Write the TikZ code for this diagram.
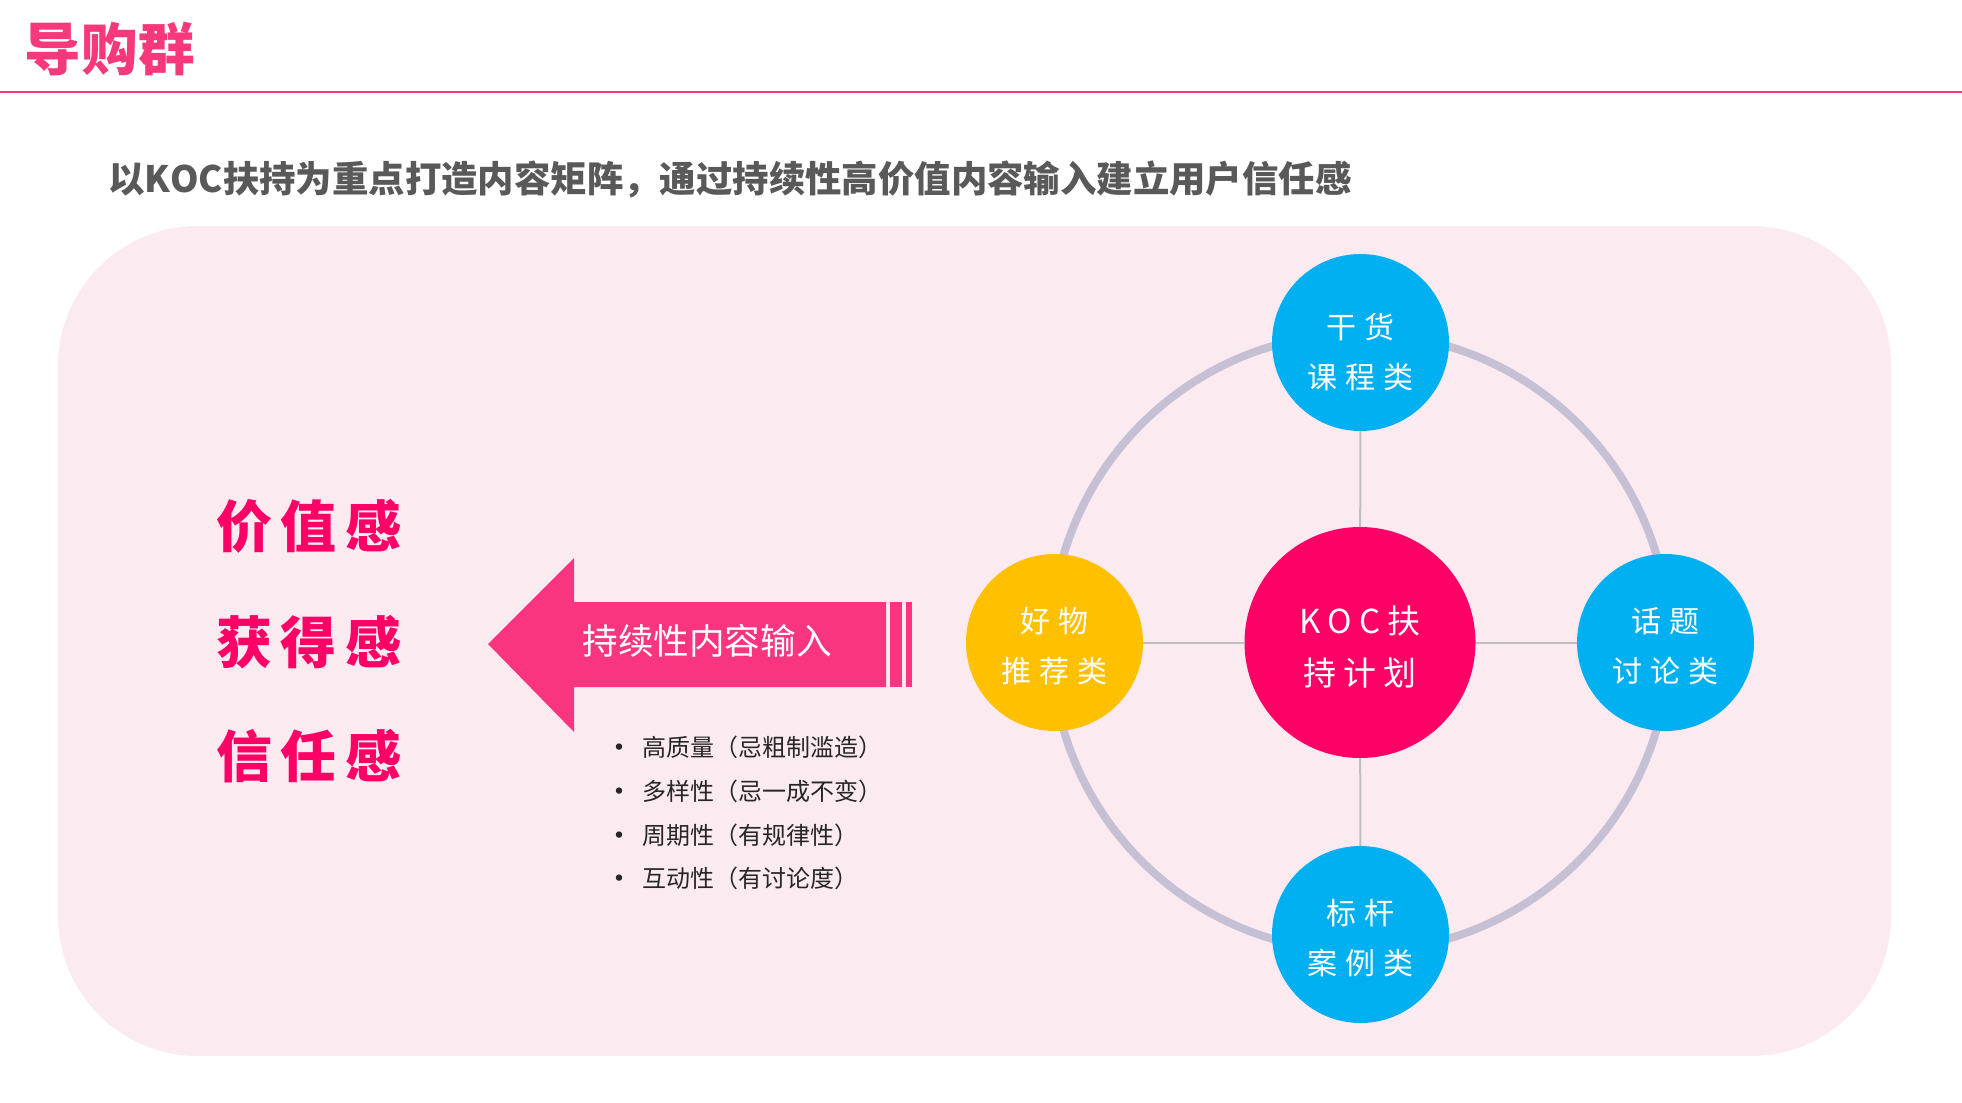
\documentclass[tikz,border=0pt]{standalone}
\usepackage{fontspec}
\setmainfont{Noto Sans CJK SC}[Kerning=Off]
\definecolor{titlepink}{HTML}{F8387B}
\definecolor{arrowpink}{HTML}{F93580}
\definecolor{deeppink}{HTML}{FF0066}
\definecolor{cblue}{HTML}{00B0F0}
\definecolor{cyellow}{HTML}{FFC000}
\definecolor{ringc}{HTML}{C6C0D4}
\definecolor{connc}{HTML}{BFBFBF}
\definecolor{bgpink}{HTML}{FBEBF1}
\definecolor{subgray}{HTML}{595959}
\definecolor{bulletc}{HTML}{262626}
\newcommand{\gap}[1][4pt]{\hspace{#1}}
\tikzset{
  base/.style={inner sep=0pt, outer sep=0pt},
  smallc/.style={base, circle, minimum size=88.5pt, text=white, align=center,
    font=\fontsize{15pt}{25pt}\selectfont},
  bigc/.style={base, circle, minimum size=115.5pt, fill=deeppink, text=white, align=center,
    font=\fontsize{16.5pt}{26pt}\selectfont},
  conn/.style={draw=connc, line width=1pt},
  ringline/.style={draw=ringc, line width=4pt},
  biglabel/.style={base, anchor=west, text=deeppink, font=\fontsize{28pt}{34pt}\selectfont\bfseries},
  bullettext/.style={base, anchor=west, text=bulletc, font=\fontsize{12pt}{14pt}\selectfont},
  bulletdot/.style={base, text=bulletc, font=\fontsize{15pt}{15pt}\selectfont},
}
\begin{document}
\begin{tikzpicture}[x=0.5pt, y=-0.5pt]
\useasboundingbox (0,0) rectangle (1962,1102);
\fill[white] (0,0) rectangle (1962,1102);
% title
\node[base, anchor=west, text=titlepink, font=\fontsize{28.3pt}{34pt}\selectfont\bfseries] (title) at (25,49) {导购群};
\coordinate (lineL) at (0,92);
\coordinate (lineR) at (1962,92);
\draw[titlepink, line width=1pt] (lineL) -- (lineR);
% subtitle
\node[base, anchor=west, text=subgray, font=\fontsize{18.2pt}{22pt}\selectfont\bfseries] (subtitle) at (108,179)
  {以KOC扶持为重点打造内容矩阵，通过持续性高价值内容输入建立用户信任感};
% background panel
\fill[bgpink, rounded corners=70pt] (58,226) rectangle (1891,1056);
% left labels
\node[biglabel] (l1) at (216,526) {价\gap[4.3pt]值\gap[4.3pt]感};
\node[biglabel] (l2) at (216,642) {获\gap[4.3pt]得\gap[4.3pt]感};
\node[biglabel] (l3) at (216,756) {信\gap[4.3pt]任\gap[4.3pt]感};
% arrow
\fill[arrowpink] (488,644) -- (574,558) -- (574,602) -- (886,602) -- (886,687) -- (574,687) -- (574,732) -- cycle;
\fill[arrowpink] (890,602) rectangle (902,687);
\fill[arrowpink] (906,602) rectangle (912,687);
\node[base, text=white, font=\fontsize{17.8pt}{20pt}\selectfont] (arrowtext) at (707,641) {持续性内容输入};
% bullets
\foreach \i/\yy/\t in {1/747/高质量（忌粗制滥造）, 2/791/多样性（忌一成不变）, 3/835/周期性（有规律性）, 4/878/互动性（有讨论度）}{
  \node[bulletdot] (dot\i) at (619,\yy+4) {•};
  \node[bullettext] (b\i) at (642,\yy) {\t};
}
% ring
\coordinate (ctr) at (1360,642.5);
\draw[ringline] (ctr) circle[radius=154.5pt];
% circles
\node[bigc] (koc) at (ctr) {\rule{0pt}{18pt}K\gap[3.5pt]O\gap[3.5pt]C\gap[3.5pt]扶\\持\gap[3.5pt]计\gap[3.5pt]划};
\node[smallc, fill=cblue] (top) at (1360.5,342.5) {\rule{0pt}{22.5pt}干\gap 货\\课\gap 程\gap 类};
\node[smallc, fill=cblue] (bottom) at (1360.5,934.5) {\rule{0pt}{16.5pt}标\gap 杆\\案\gap 例\gap 类};
\node[smallc, fill=cyellow] (left) at (1054.5,642.5) {\rule{0pt}{16.5pt}好\gap 物\\推\gap 荐\gap 类};
\node[smallc, fill=cblue] (right) at (1665.5,642.5) {\rule{0pt}{16.5pt}话\gap 题\\讨\gap 论\gap 类};
\draw[conn] (koc) -- (top);
\draw[conn] (koc) -- (bottom);
\draw[conn] (koc) -- (left);
\draw[conn] (koc) -- (right);
\end{tikzpicture}
\end{document}
